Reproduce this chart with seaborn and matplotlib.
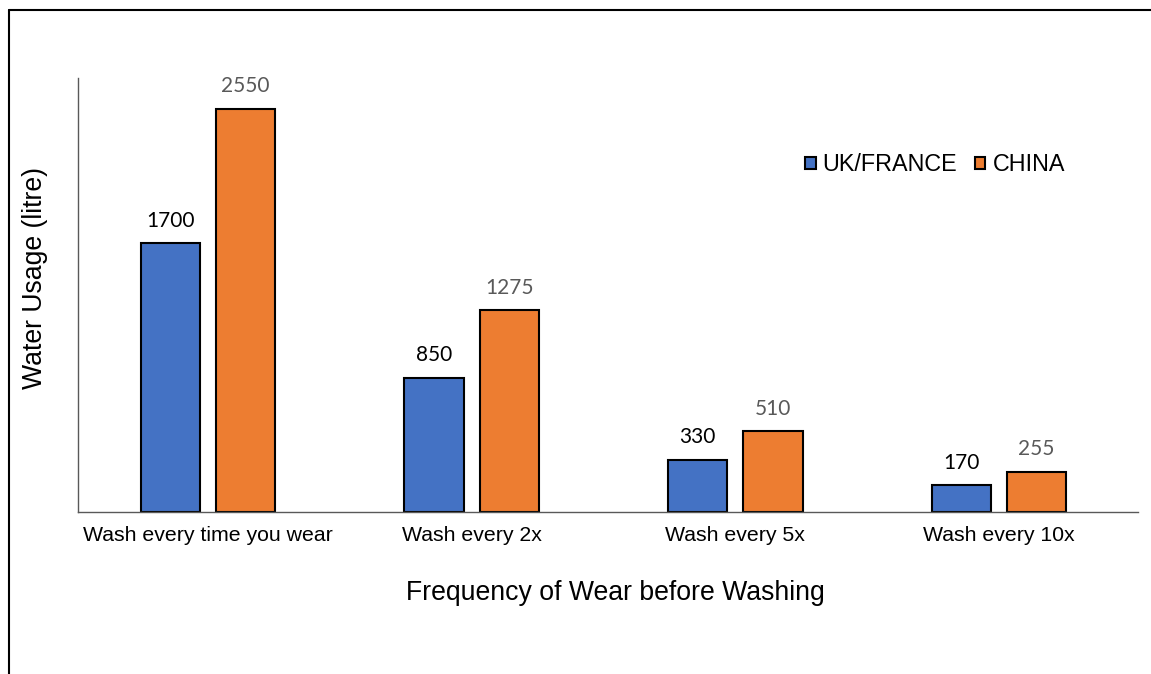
import pandas as pd
import seaborn as sns
import matplotlib.pyplot as plt
from matplotlib.lines import Line2D

sns.set_style("white")
plt.rcParams["font.family"] = ["Liberation Sans", "DejaVu Sans"]
plt.rcParams["text.color"] = "black"
plt.rcParams["axes.labelcolor"] = "black"
plt.rcParams["xtick.color"] = "black"

categories = ["Wash every time you wear", "Wash every 2x", "Wash every 5x", "Wash every 10x"]
uk_france = [1700, 850, 330, 170]
china = [2550, 1275, 510, 255]
series = ["UK/FRANCE", "CHINA"]
colors = ["#4472C4", "#ED7D31"]

data = pd.DataFrame({
    "freq": categories * 2,
    "usage": uk_france + china,
    "region": [series[0]] * 4 + [series[1]] * 4,
})

fig = plt.figure(figsize=(11.51, 6.74), dpi=100)
ax = fig.add_axes([78 / 1151, 1 - 512 / 674, 1060 / 1151, 434 / 674])

sns.barplot(data=data, x="freq", y="usage", hue="region", palette=colors,
            width=0.57, gap=0.21, edgecolor="black", linewidth=1.5,
            saturation=1, ax=ax)

ax.set_xlim(-0.493, 3.527)
ax.set_ylim(0, 2745)
ax.set_yticks([])
ax.tick_params(axis="x", length=0, pad=10, labelsize=15.3, labelcolor="black")

for sp in ["top", "right"]:
    ax.spines[sp].set_visible(False)
for sp in ["left", "bottom"]:
    ax.spines[sp].set_color("#595959")
    ax.spines[sp].set_linewidth(1.0)

# value labels
label_colors = ["black", "#595959"]
for cont, lc in zip(ax.containers, label_colors):
    ax.bar_label(cont, labels=[f"{v:.0f}" for v in cont.datavalues], padding=9,
                 color=lc, fontsize=15, family="Lato")

ax.set_xlabel("Frequency of Wear before Washing", fontsize=19.2)
ax.xaxis.set_label_coords(0.5066, -0.156)
ax.xaxis.label.set_va("top")
ax.set_ylabel("Water Usage (litre)", fontsize=19.2)
ax.yaxis.set_label_coords(-0.028, 0.54)

leg = ax.legend(loc="center left", bbox_to_anchor=(0.686, 0.800), ncol=2,
                frameon=False, fontsize=16.8, handlelength=0.45, handleheight=0.45,
                handletextpad=0.3, columnspacing=0.75, borderpad=0, borderaxespad=0)
for h in leg.legend_handles:
    h.set_edgecolor("black")
    h.set_linewidth(1.5)

# outer frame (left and top edges only visible)
fig.add_artist(Line2D([8.5 / 1151, 8.5 / 1151], [0, 1 - 10 / 674], color="black", lw=1.5,
                      transform=fig.transFigure))
fig.add_artist(Line2D([8.5 / 1151, 1], [1 - 10 / 674, 1 - 10 / 674], color="black", lw=1.5,
                      transform=fig.transFigure))

fig.savefig("out.png", dpi=100)
